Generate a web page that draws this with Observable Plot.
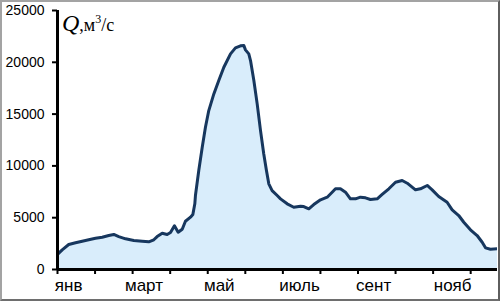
<!DOCTYPE html>
<html><head><meta charset="utf-8">
<script src="https://cdn.jsdelivr.net/npm/d3@7"></script>
<script src="https://cdn.jsdelivr.net/npm/@observablehq/plot@0.6"></script>
<style>
body{margin:0;background:#fff;}
#wrap{position:relative;width:500px;height:301px;overflow:hidden;background:#fff;}
#wrap svg{position:absolute;left:0;top:0;}
#frame{position:absolute;left:0;top:0;width:500px;height:301px;box-sizing:border-box;border:2px solid;border-color:#a3a3a3 #5e5e5e #6e6e6e #a3a3a3;pointer-events:none;}
</style>
</head><body>
<div id="wrap"><div id="frame"></div></div>
<script>
// day of year
const days = [0, 3.8, 9.1, 14.6, 20, 25.3, 30.8, 36.2, 41.5, 45.6, 49.6, 55.1, 61.8, 68.6, 73.9, 78, 80.7, 84.8, 88.8, 91.5, 94.7, 97.7, 101, 103.6, 107.7, 109.6, 111.2, 111.7, 114.4, 117.2, 119.8, 122.5, 126.6, 130.6, 134.7, 140.1, 144.1, 148.2, 150.9, 152.2, 154.9, 156.3, 159, 161.7, 164.4, 167, 169.2, 171.1, 173.8, 177.9, 180.6, 186, 191.3, 196.8, 199.4, 203.5, 207.5, 213, 218.4, 222.4, 225.1, 229.1, 233.2, 237.2, 241.3, 245.3, 249.4, 253.4, 258.9, 262.9, 268.3, 273.7, 279.1, 283.2, 289.9, 293.9, 299.4, 303.4, 308.7, 315.5, 319.6, 324.9, 329, 334.4, 339.8, 343.9, 346.6, 350.6, 357.3];
// discharge, m3/s
const discharge = [1450, 1900, 2410, 2580, 2730, 2870, 3020, 3120, 3280, 3380, 3180, 2960, 2800, 2730, 2670, 2870, 3180, 3500, 3380, 3570, 4220, 3600, 3890, 4660, 5050, 5310, 6340, 7140, 9550, 11800, 13730, 15340, 16950, 18240, 19520, 20810, 21390, 21590, 21620, 21200, 20810, 20170, 18240, 15990, 13410, 11170, 9550, 8270, 7620, 7140, 6820, 6340, 6010, 6110, 6080, 5860, 6270, 6730, 6980, 7460, 7790, 7790, 7460, 6820, 6820, 6980, 6920, 6760, 6820, 7240, 7790, 8420, 8590, 8330, 7690, 7790, 8110, 7690, 7040, 6490, 5760, 5210, 4560, 3830, 3280, 2630, 2090, 1960, 2000];
const yTicks = [0, 5000, 10000, 15000, 20000, 25000];
const monthLabels = ["янв", "март", "май", "июль", "сент", "нояб"];
const labelDays = [9, 70, 131, 196, 256, 320];
const monthTicks = d3.range(12).map(i => i * 365 / 12);

const data = days.map((d, i) => ({day: d, q: discharge[i]}));

const chart = Plot.plot({
  width: 500, height: 301,
  marginLeft: 57, marginRight: 3, marginTop: 10, marginBottom: 32,
  x: {domain: [0, 356.3]},
  y: {domain: [0, 25000]},
  style: {fontFamily: '"Liberation Sans", Arial, sans-serif', fontSize: "14px", color: "#000", background: "transparent"},
  marks: [
    Plot.areaY(data, {x: "day", y: "q", fill: "#d9edfb", clip: true}),
    Plot.lineY(data, {x: "day", y: "q", stroke: "#17375e", strokeWidth: 3, strokeLinejoin: "round", clip: true}),
    Plot.axisY({ticks: yTicks, tickSize: 5, tickPadding: 8, strokeWidth: 2, fontSize: 14, label: null, tickFormat: d => String(d)}),
    Plot.axisX({ticks: monthTicks, tickSize: 5, tickFormat: () => "", strokeWidth: 2, label: null}),
    Plot.axisX({ticks: labelDays, tickSize: 0, tickPadding: 9, fontSize: 17, label: null, tickFormat: d => monthLabels[labelDays.indexOf(d)]}),
    Plot.ruleX([0], {strokeWidth: 3}),
    Plot.ruleY([0], {strokeWidth: 3})
  ]
});

const svg = d3.select(chart);
const t = svg.append("text").attr("x", 62).attr("y", 31).attr("text-anchor", "start")
  .attr("font-family", '"Liberation Serif", "Times New Roman", serif').attr("fill", "#000");
t.append("tspan").attr("font-style", "italic").attr("font-size", 24).text("Q");
t.append("tspan").attr("font-size", 18).text(",м");
t.append("tspan").attr("font-size", 12).attr("dy", -8).text("3");
t.append("tspan").attr("font-size", 18).attr("dy", 8).text("/с");

document.getElementById("wrap").insertBefore(chart, document.getElementById("frame"));
</script>
</body></html>
